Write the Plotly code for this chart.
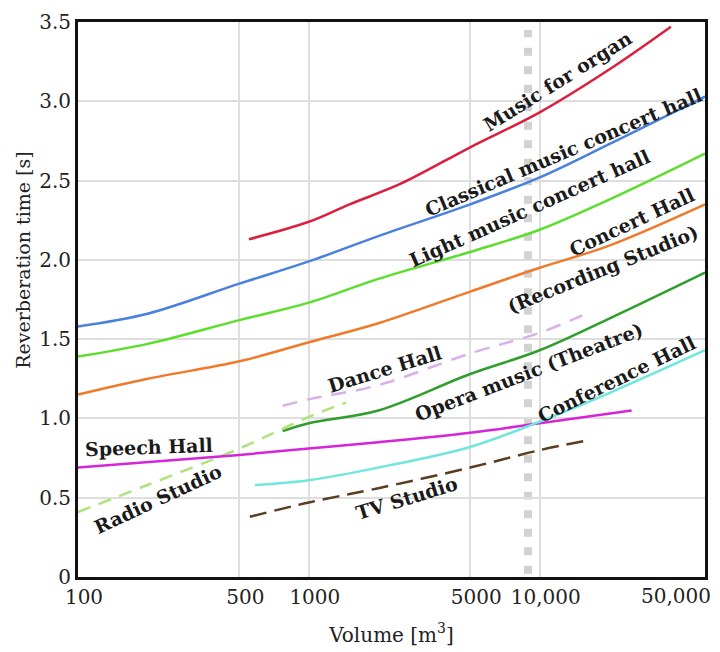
import plotly.graph_objects as go

# curve data: volume [m3] and reverberation time [s]
organ_v = [550, 1000, 1500, 2500, 5000, 10000, 20000, 37000]
organ_t = [2.13, 2.24, 2.35, 2.48, 2.71, 2.93, 3.20, 3.47]

classical_v = [100, 200, 500, 1000, 2000, 5000, 10000, 20000, 52000]
classical_t = [1.58, 1.66, 1.85, 1.99, 2.15, 2.35, 2.52, 2.73, 3.03]

light_v = [100, 200, 500, 1000, 2000, 5000, 10000, 20000, 52000]
light_t = [1.39, 1.47, 1.62, 1.73, 1.88, 2.05, 2.19, 2.38, 2.67]

concert_v = [100, 200, 500, 1000, 2000, 5000, 10000, 20000, 52000]
concert_t = [1.15, 1.25, 1.36, 1.48, 1.60, 1.80, 1.95, 2.09, 2.35]

opera_v = [770, 1000, 2000, 5000, 10000, 20000, 52000]
opera_t = [0.92, 0.97, 1.05, 1.28, 1.43, 1.63, 1.92]

dance_v = [770, 1000, 2000, 5000, 10000, 15300]
dance_t = [1.08, 1.12, 1.21, 1.41, 1.54, 1.65]

radio_v = [100, 200, 500, 1000, 1450]
radio_t = [0.41, 0.58, 0.81, 1.01, 1.10]

speech_v = [100, 500, 1000, 2000, 5000, 10000, 25000]
speech_t = [0.69, 0.77, 0.81, 0.85, 0.91, 0.97, 1.05]

conference_v = [584, 1000, 2000, 5000, 10000, 20000, 52000]
conference_t = [0.58, 0.61, 0.69, 0.82, 0.98, 1.16, 1.43]

tv_v = [555, 1000, 2000, 5000, 10000, 16000]
tv_t = [0.38, 0.47, 0.56, 0.69, 0.80, 0.86]

x_ticks = [100, 500, 1000, 5000, 10000]
x_ticktext = ["100", "500", "1000", "5000", "10,000"]
y_ticks = [0, 0.5, 1.0, 1.5, 2.0, 2.5, 3.0, 3.5]
y_ticktext = ["0", "0.5", "1.0", "1.5", "2.0", "2.5", "3.0", "3.5"]

marker_volume = 8900  # grey dotted reference line

SERIF = "DejaVu Serif"

fig = go.Figure()

def add_curve(v, t, color, dash="solid"):
    fig.add_trace(go.Scatter(
        x=v, y=t, mode="lines",
        line=dict(color=color, width=2.5, dash=dash, shape="spline"),
        showlegend=False, hoverinfo="skip",
    ))

add_curve(organ_v, organ_t, "#dc1f3e")
add_curve(classical_v, classical_t, "#4a80de")
add_curve(light_v, light_t, "#5cde2c")
add_curve(concert_v, concert_t, "#f07a2a")
add_curve(opera_v, opera_t, "#2f9e2c")
add_curve(dance_v, dance_t, "#dbb0ea", dash="15px,10px")
add_curve(radio_v, radio_t, "#aee27a", dash="13px,9px")
add_curve(speech_v, speech_t, "#d624d8")
add_curve(conference_v, conference_t, "#70e6dc")
add_curve(tv_v, tv_t, "#5a3c1e", dash="17px,8px")

# dotted reference line
fig.add_shape(type="line", xref="x", yref="y",
              x0=marker_volume, x1=marker_volume, y0=0.02, y1=3.45,
              line=dict(color="#d2d2d2", width=8, dash="8px,10.5px"), layer="below")

# curve labels (x in log10 units)
labels = [
    ("Music for organ", 4.078, 3.13, -32),
    ("Classical music concert hall", 4.104, 2.68, -23),
    ("Light music concert hall", 3.957, 2.33, -24),
    ("Concert Hall", 4.398, 2.24, -25),
    ("(Recording Studio)", 4.273, 1.94, -22),
    ("Dance Hall", 3.329, 1.31, -17),
    ("Opera music (Theatre)", 3.952, 1.29, -21),
    ("Conference Hall", 4.333, 1.25, -26),
    ("Speech Hall", 2.307, 0.82, -2),
    ("Radio Studio", 2.346, 0.49, -25),
    ("TV Studio", 3.424, 0.50, -17),
]
for text, lx, ly, ang in labels:
    fig.add_annotation(x=lx, y=ly, text=f"<b>{text}</b>", showarrow=False,
                       textangle=ang,
                       font=dict(family=SERIF, size=19, color="#1a1a1a"))

# last x tick label sits inside the right edge
fig.add_annotation(x=1, y=0, xref="paper", yref="paper", text="50,000",
                   xanchor="right", yanchor="top", xshift=8, yshift=-5,
                   showarrow=False,
                   font=dict(family=SERIF, size=20, color="#222"))

# y axis title, placed a bit above the middle as in the original
fig.add_annotation(x=-0.089, y=0.57, xref="paper", yref="paper",
                   xanchor="center", yanchor="middle",
                   text="Reverberation time [s]", textangle=-90,
                   showarrow=False,
                   font=dict(family=SERIF, size=19, color="#222"))

fig.update_xaxes(
    type="log", range=[2, 4.716],
    tickvals=x_ticks, ticktext=x_ticktext, ticks="",
    ticklabelshift=6,
    showgrid=True, gridcolor="#dedede", gridwidth=2,
    showline=True, linecolor="#111", linewidth=3, mirror=True,
    tickfont=dict(family=SERIF, size=20, color="#222"),
    title=dict(text="Volume [m<sup>3</sup>]", standoff=20,
               font=dict(family=SERIF, size=20, color="#222")),
    automargin=False,
)
fig.update_yaxes(
    range=[0, 3.5], tickvals=y_ticks, ticktext=y_ticktext, ticks="",
    showgrid=True, gridcolor="#dedede", gridwidth=2, zeroline=False,
    showline=True, linecolor="#111", linewidth=3, mirror=True,
    tickfont=dict(family=SERIF, size=20, color="#222"),
    automargin=False,
)

fig.update_layout(
    width=720, height=652,
    margin=dict(l=78, r=15, t=22, b=75),
    plot_bgcolor="white", paper_bgcolor="white",
)

fig.write_html("out.html", config={"displayModeBar": False},
               post_script="document.body.style.margin='0px';")
